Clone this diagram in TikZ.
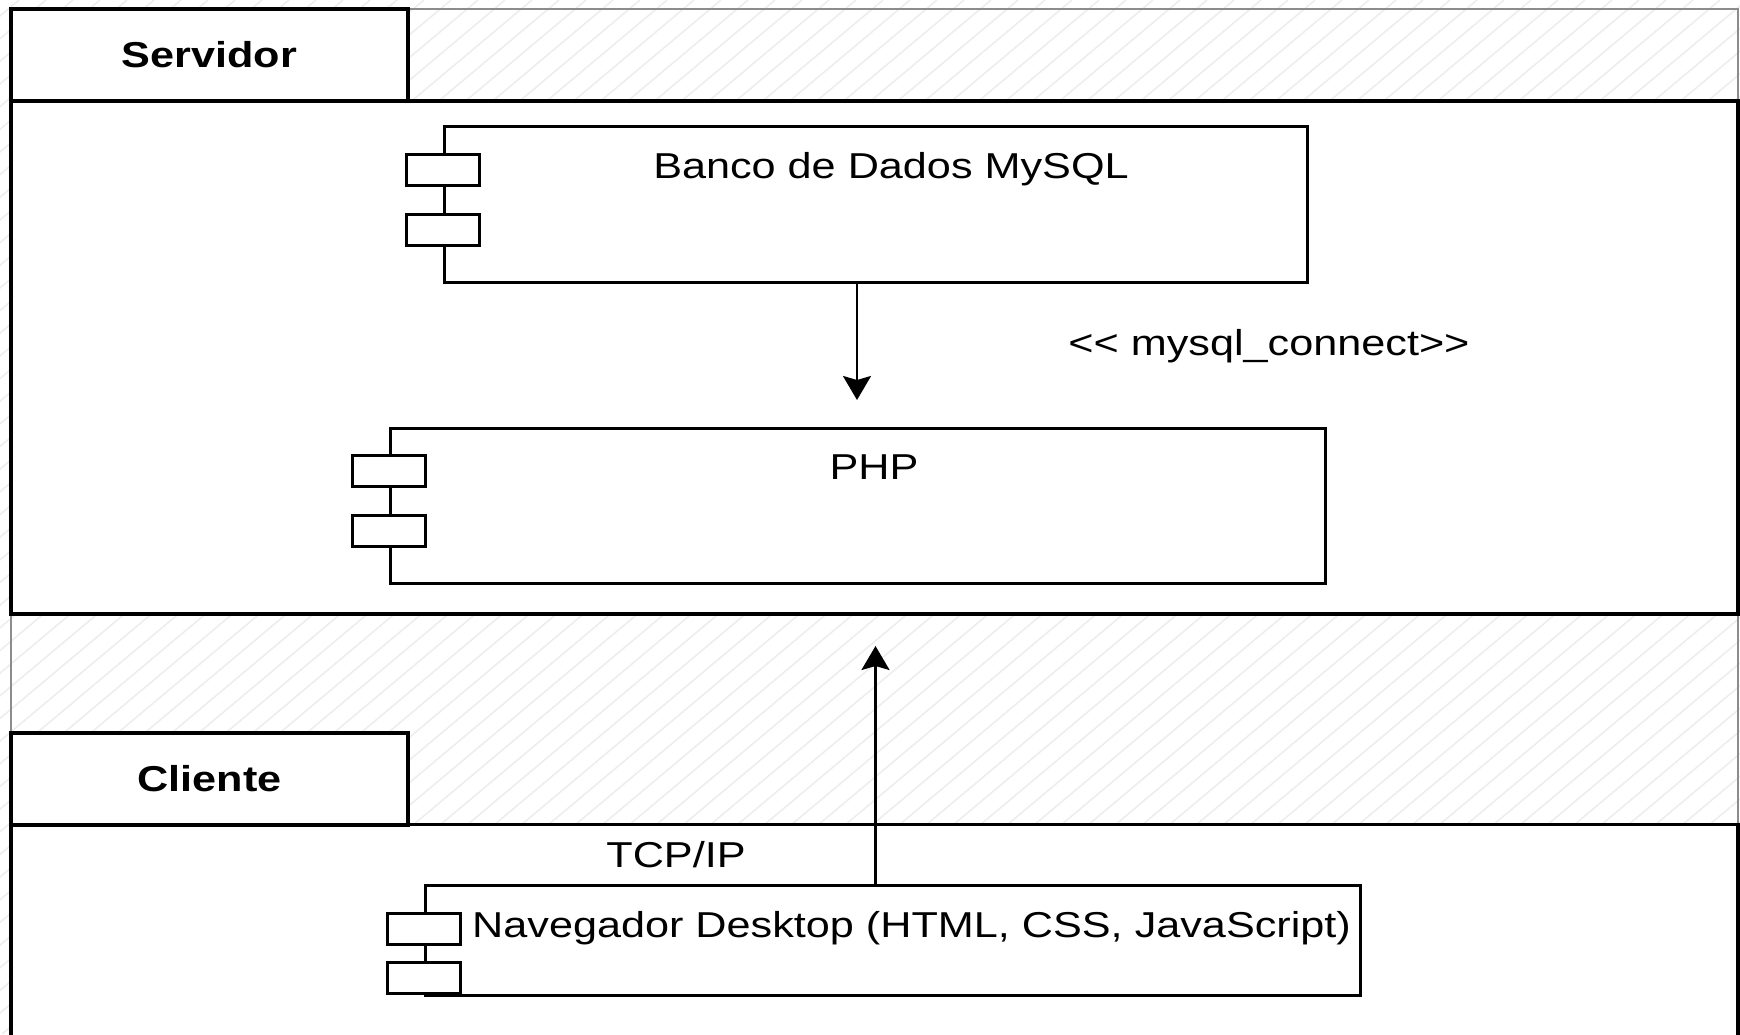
\documentclass[tikz,border=0pt]{standalone}
\usepackage{fontspec}
\setmainfont{Liberation Sans}[FakeStretch=1.2]
\usetikzlibrary{positioning,arrows.meta}

\newcommand{\diafont}{\fontsize{36}{43}\selectfont}

\tikzset{
  pane/.style = {draw, fill=white, line width=3.5pt, inner sep=0pt},
  tab/.style = {pane, font=\diafont\bfseries, minimum width=397pt, minimum height=92pt},
  comp/.style = {draw, fill=white, line width=3pt, inner sep=0pt},
  port/.style = {comp, minimum width=73pt, minimum height=31pt, outer sep=0pt},
  lbl/.style = {inner sep=0pt, anchor=base},
  hatch/.style = {black!7, line width=1.6pt},
  flow/.style = {line width=2.5pt, -{Stealth[width=28pt, length=24pt, inset=4pt]}}
}

\begin{document}
\begin{tikzpicture}[x=1pt, y=-1pt, font=\diafont]
\useasboundingbox (0,0) rectangle (1740,1034);

% hatched page
\begin{scope}
  \clip (0,0) rectangle (1740,1034);
  \foreach \i in {-1240,-1213,...,1740}
    \draw[hatch] (\i,1034) -- ++(1232,-1034);
\end{scope}
\draw[black!45, line width=1.5pt] (11,9) rectangle (1738,1040);

% Servidor
\node[pane, minimum width=1727pt, minimum height=513pt] (srv) at (874.5,357.5) {};
\node[tab] (srvtab) at (209.5,55) {Servidor};

% Cliente
\node[pane, minimum width=1727pt, minimum height=220pt] (cli) at (874.5,934.5) {};
\node[tab] (clitab) at (209.5,779) {Cliente};

% components
\node[comp, minimum width=863pt, minimum height=156pt] (db) at (875.5,204.5) {};
\node[port, below=29pt of db.north west] (dbp1) {};
\node[port, below=89pt of db.north west] (dbp2) {};
\node[lbl] (dbtxt) at (891,178) {Banco de Dados MySQL};

\node[comp, minimum width=935pt, minimum height=155pt] (php) at (857.5,505.5) {};
\node[port, below=29pt of php.north west] (phpp1) {};
\node[port, below=89pt of php.north west] (phpp2) {};
\node[lbl] (phptxt) at (874,479) {PHP};

\node[comp, minimum width=935pt, minimum height=110pt] (nav) at (893,940) {};
\node[port, below=30pt of nav.north west] (navp1) {};
\node[port, below=79pt of nav.north west] (navp2) {};
\node[lbl, anchor=base west] (navtxt) at (472,937) {Navegador Desktop (HTML, CSS, JavaScript)};

% connectors
\node[lbl] (sqllbl) at (1269,355) {<{}< mysql\_connect>{}>};
\node[lbl] (tcplbl) at (676,867) {TCP/IP};

\coordinate (dbtip) at (857,400);
\coordinate (navtip) at (875.5,646);
\draw[flow] (dbtip |- db.south) -- (dbtip);
\draw[flow] (navtip |- nav.north) -- (navtip);

\end{tikzpicture}
\end{document}
